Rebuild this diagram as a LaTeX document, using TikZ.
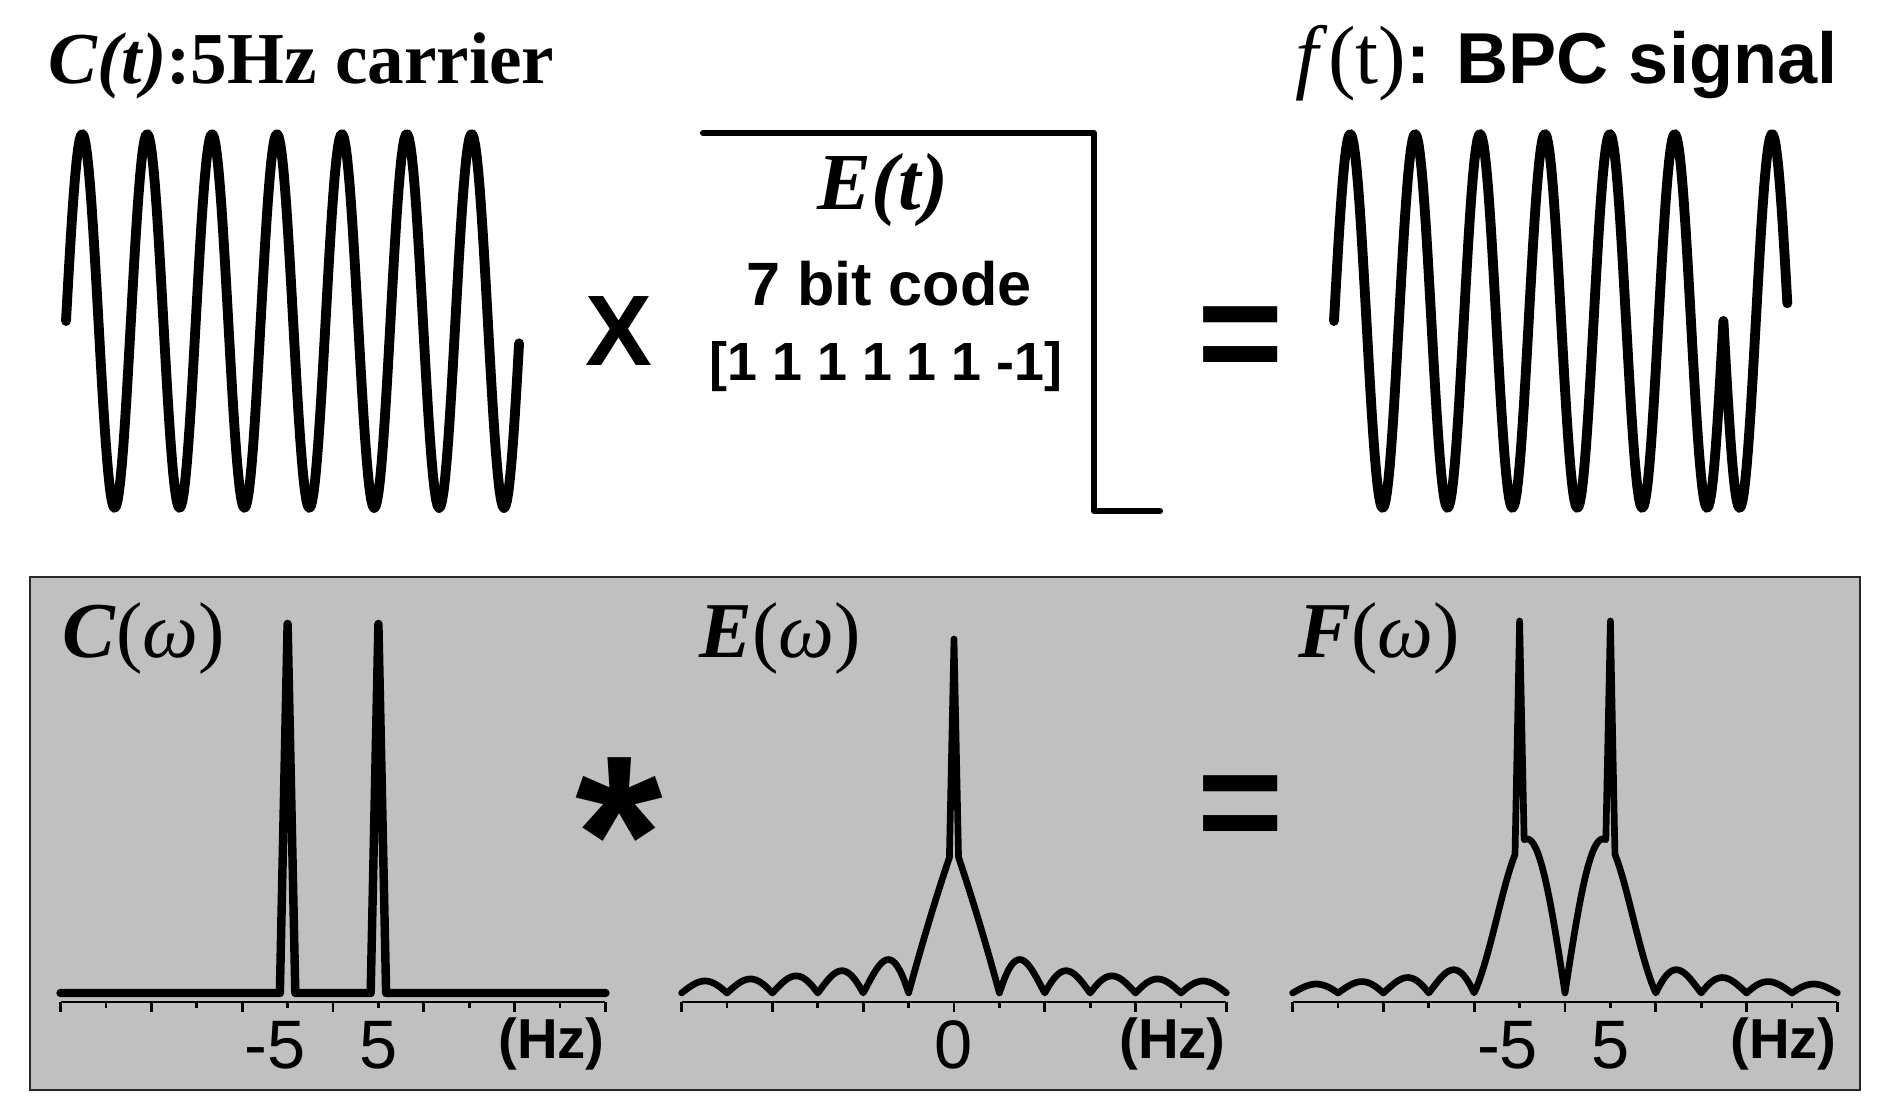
\documentclass[tikz,border=0pt]{standalone}
\usepackage{fontspec}
\setmainfont{Liberation Serif}
\setsansfont{Liberation Sans}
\usepackage{tikz}
\usetikzlibrary{positioning}
\definecolor{panelgray}{RGB}{192,192,192}
\definecolor{framegray}{RGB}{40,40,40}
\newcommand{\fsz}[1]{\fontsize{#1}{#1}\selectfont}

\begin{document}
\begin{tikzpicture}[x=0.01cm, y=-0.01cm,
    every node/.style={inner sep=0pt},
    wave/.style={line width=2.8pt, line join=round, line cap=round},
    codeline/.style={line width=1.7pt, line join=round, line cap=round},
    spec/.style={line width=1.9pt, line join=round, line cap=round},
    axisline/.style={line width=0.8pt},
    ticklbl/.style={font=\fsz{19.5pt}\sffamily},
    hzlbl/.style={font=\fsz{16pt}\sffamily\bfseries},
    speclbl/.style={anchor=base west, font=\fsz{22.5pt}},
    declare function={
      sc(\v) = sin(180*\v)/(pi*\v);
      envE(\u) = (abs(\u)<1) ? 149*(1-abs(\u))*(1+0.12*abs(\u)) : 33*abs(sin(180*\u))*(1.5/max(abs(\u),1))^0.78;
      envF(\u) = (abs(\u)<2) ? 148*abs(sc(\u+1)-sc(\u-1)) : 23*abs(sin(180*\u))*(2.5/max(abs(\u),2))^1.2;
    }]
    \useasboundingbox (0,0) rectangle (1884,1116);

    % Carrier
    \draw[wave] plot[domain=0:6.985, samples=301] ({66+64.9*\x}, {321-187*sin(360*\x)});
    \node[anchor=base west, font=\fsz{20.8pt}\bfseries] (ctitle) at (48,84) {\textit{C(t)}:5Hz carrier};

    \node[anchor=base, font=\fsz{28.5pt}\sffamily\bfseries] (times) at (619,366) {X};

    % Code envelope
    \draw[codeline] (703,133) -- (1094,133) -- (1094,511) -- (1160,511);
    \node[anchor=base, font=\fsz{23pt}\bfseries\itshape] (etitle) at (883,210) {E(t)};
    \node[anchor=base, font=\fsz{17.4pt}\sffamily\bfseries] (ebits) at (889,306) {7 bit code};
    \node[anchor=base, font=\fsz{15.3pt}\sffamily\bfseries] (ecode) at (886,381) {[1 1 1 1 1 1 -1]};

    \node[anchor=north, font=\fsz{42pt}\sffamily\bfseries] (eqtop) at (1241,306) {=};

    % BPC signal, phase flip on the last bit
    \draw[wave] plot[domain=0:6, samples=259] ({1334+64.9*\x}, {321-187*sin(360*\x)})
        -- plot[domain=6:6.985, samples=45] ({1334+64.9*\x}, {321+187*sin(360*\x)});
    \node[anchor=base east, font=\fsz{23.5pt}] (ftitle) at (1838,84) {\textit{f}(t)\fsz{20.5pt}\sffamily\bfseries: BPC signal};

    % Spectrum panel
    \draw[framegray, fill=panelgray, line width=0.6pt] (30,577) rectangle (1860,1090);

    % Frequency axes
    \foreach \cx in {333,954,1565} {
      \begin{scope}[shift={(\cx,993)}, xscale=45.4, yscale=-1]
        \draw[axisline] (-6,-9) -- (6,-9);
        \foreach \k in {-6,...,6} {
          \pgfmathsetmacro\tl{mod(\k,2)==0 ? 19 : 15}
          \draw[axisline] (\k,-9) -- (\k,-\tl);
        }
        \node[hzlbl, anchor=base east] (hz\cx) at (6,-66) {(Hz)};
      \end{scope}
    }

    % C(w)
    \begin{scope}[shift={(333,993)}, xscale=45.4, yscale=-1]
      \draw[spec, line width=2.4pt] (-6,0) -- (-1.17,0) -- (-1,369) -- (-0.83,0) -- (0.83,0) -- (1,369) -- (1.17,0) -- (6,0);
      \node[ticklbl, anchor=base east] (cm5) at (-0.58,-76) {-5};
      \node[ticklbl, anchor=base] (cp5) at (1,-76) {5};
    \end{scope}
    \node[speclbl] (cw) at (62,658) {\textbf{\textit{C}}(\textit{ω})};

    \node[anchor=north, font=\fsz{64pt}\sffamily\bfseries] (conv) at (619,757) {*};

    % E(w)
    \begin{scope}[shift={(954,993)}, xscale=45.4, yscale=-1]
      \draw[spec] plot[domain=-6:-0.1, samples=119] (\x, {envE(\x)})
          -- (0,354)
          -- plot[domain=0.1:6, samples=119] (\x, {envE(\x)});
      \node[ticklbl, anchor=base] (e0) at (0,-76) {0};
    \end{scope}
    \node[speclbl] (ew) at (699,658) {\textbf{\textit{E}}(\textit{ω})};

    \node[anchor=north, font=\fsz{42pt}\sffamily\bfseries] (eqbot) at (1241,775) {=};

    % F(w)
    \begin{scope}[shift={(1565,993)}, xscale=45.4, yscale=-1]
      \draw[spec] plot[domain=-6:-1.1, samples=99] (\x, {envF(\x)})
          -- (-1,372)
          -- plot[domain=-0.9:0.9, samples=37] (\x, {envF(\x)})
          -- (1,372)
          -- plot[domain=1.1:6, samples=99] (\x, {envF(\x)});
      \node[ticklbl, anchor=base east] (fm5) at (-0.58,-76) {-5};
      \node[ticklbl, anchor=base] (fp5) at (1,-76) {5};
    \end{scope}
    \node[speclbl] (fw) at (1298,658) {\textbf{\textit{F}}(\textit{ω})};
\end{tikzpicture}
\end{document}
